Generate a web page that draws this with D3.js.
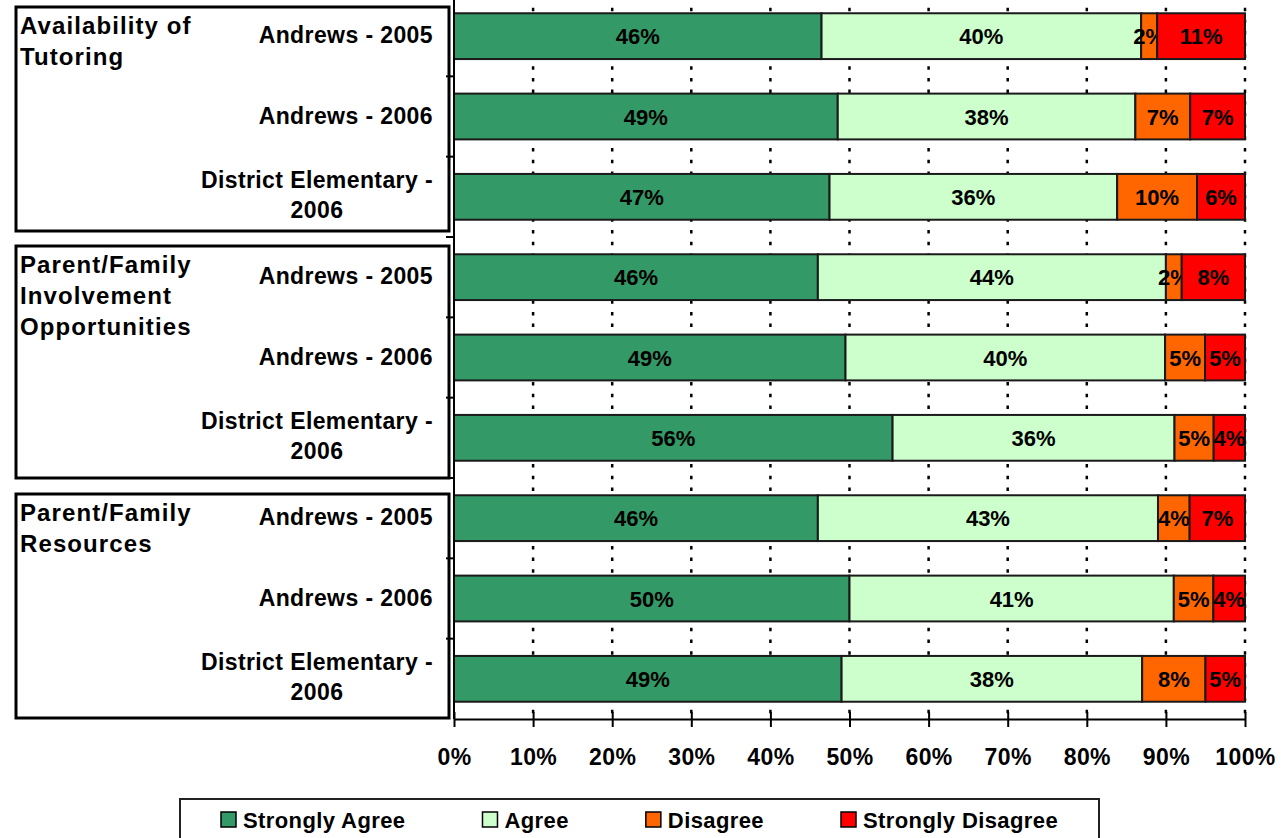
<!DOCTYPE html>
<meta charset="utf-8">
<script src="https://d3js.org/d3.v7.min.js"></script>
<style>
  body { margin: 0; background: #fff; }
  text { font-family: "Liberation Sans", Arial, sans-serif; font-weight: bold; fill: #000; }
</style>
<div id="my_dataviz"></div>
<script>

// data
var groupNames = [["Availability of", "Tutoring"],
                  ["Parent/Family", "Involvement", "Opportunities"],
                  ["Parent/Family", "Resources"]];
var rowNames = [["Andrews - 2005"], ["Andrews - 2006"], ["District Elementary -", "2006"]];
var series = ["Strongly Agree", "Agree", "Disagree", "Strongly Disagree"];
var colors = ["#339966", "#CCFFCC", "#FF6600", "#FF0000"];

var stronglyAgree    = [46, 49, 47, 46, 49, 56, 46, 50, 49];
var agree            = [40, 38, 36, 44, 40, 36, 43, 41, 38];
var disagree         = [ 2,  7, 10,  2,  5,  5,  4,  5,  8];
var stronglyDisagree = [11,  7,  6,  8,  5,  4,  7,  4,  5];
var xTicks = [0, 10, 20, 30, 40, 50, 60, 70, 80, 90, 100];

var width = 1287, height = 838;

var svg = d3.select("#my_dataviz")
  .append("svg")
    .attr("width", width)
    .attr("height", height)
    .style("display", "block");

// build rows
var table = [];
groupNames.forEach(function(g, gi) {
  rowNames.forEach(function(r, ri) {
    var i = gi * rowNames.length + ri;
    table.push({
      id: "g" + gi + "r" + ri, group: gi, lines: r,
      "Strongly Agree": stronglyAgree[i], "Agree": agree[i],
      "Disagree": disagree[i], "Strongly Disagree": stronglyDisagree[i]
    });
  });
});

var x = d3.scaleLinear().domain([0, 1]).range([454, 1245]);
var y = d3.scaleBand().domain(table.map(function(d) { return d.id; }))
  .range([-4, 719]).paddingInner(0.43).paddingOuter(0.215);
var color = d3.scaleOrdinal().domain(series).range(colors);

var step = y.step();
function bandTop(id) { return y(id) - step * 0.215; }

// gridlines
svg.append("g").selectAll("line")
  .data(xTicks.filter(function(t) { return t > 0; }))
  .enter().append("line")
    .attr("x1", function(d) { return x(d / 100); })
    .attr("x2", function(d) { return x(d / 100); })
    .attr("y1", -4).attr("y2", 719)
    .attr("stroke", "#000").attr("stroke-width", 2.5)
    .attr("stroke-dasharray", "3.5,8.2");

// stacked bars
var stacked = d3.stack().keys(series).offset(d3.stackOffsetExpand)(table);

var layers = svg.append("g").selectAll("g")
  .data(stacked)
  .enter().append("g")
    .attr("fill", function(d) { return color(d.key); });

layers.selectAll("rect")
  .data(function(d) { return d; })
  .enter().append("rect")
    .attr("x", function(d) { return x(d[0]); })
    .attr("y", function(d) { return y(d.data.id); })
    .attr("width", function(d) { return x(d[1]) - x(d[0]); })
    .attr("height", y.bandwidth())
    .attr("stroke", "#1a1a1a").attr("stroke-width", 2);

layers.each(function(s) {
  d3.select(this).selectAll("text")
    .data(s)
    .enter().append("text")
      .attr("x", function(d) { return (x(d[0]) + x(d[1])) / 2; })
      .attr("y", function(d) { return y(d.data.id) + y.bandwidth() / 2 + 8; })
      .attr("text-anchor", "middle")
      .style("font-size", "22px")
      .text(function(d) { return d.data[s.key] + "%"; });
});

// y axis line and ticks
svg.append("line").attr("x1", 454).attr("x2", 454).attr("y1", -4).attr("y2", 719)
  .attr("stroke", "#000").attr("stroke-width", 2);
svg.append("g").selectAll("line")
  .data(table.slice(1))
  .enter().append("line")
    .attr("x1", 446).attr("x2", 454)
    .attr("y1", function(d) { return bandTop(d.id); })
    .attr("y2", function(d) { return bandTop(d.id); })
    .attr("stroke", "#000").attr("stroke-width", 2);

// x axis
var xAxis = svg.append("g")
  .attr("transform", "translate(0,719)")
  .call(d3.axisBottom(x)
    .tickValues(xTicks.map(function(t) { return t / 100; }))
    .tickFormat(d3.format(".0%"))
    .tickSizeOuter(0).tickSizeInner(8));
xAxis.select(".domain").attr("stroke-width", 2);
xAxis.selectAll(".tick line").attr("y1", -7).attr("stroke-width", 2);
xAxis.selectAll(".tick text")
  .attr("y", 46).attr("dy", 0)
  .style("font-size", "23px")
  .style("letter-spacing", "0.4px")
  .style("font-family", "'Liberation Sans', Arial, sans-serif")
  .style("font-weight", "bold");

// group boxes with labels
var boxOffsets = [[11, -6], [9, 0], [16, -1]];
groupNames.forEach(function(g, gi) {
  var first = table[gi * 3].id, last = table[gi * 3 + 2].id;
  var top = bandTop(first) + boxOffsets[gi][0];
  var bottom = bandTop(last) + step + boxOffsets[gi][1];
  svg.append("rect")
    .attr("x", 16).attr("y", top)
    .attr("width", 433).attr("height", bottom - top)
    .attr("fill", "none").attr("stroke", "#000").attr("stroke-width", 3);
  var t = svg.append("text").attr("x", 20).attr("y", top + 27)
    .style("font-size", "24px").style("letter-spacing", "1.1px");
  g.forEach(function(line, li) {
    t.append("tspan").attr("x", 20).attr("dy", li === 0 ? 0 : 31).text(line);
  });
});

// row labels
table.forEach(function(d) {
  var cy = y(d.id) + y.bandwidth() / 2;
  var lab = function(yy, anchor, xx, s) {
    return svg.append("text").attr("x", xx).attr("y", yy)
      .attr("text-anchor", anchor).style("font-size", "23px")
      .style("letter-spacing", "0.4px").text(s);
  };
  if (d.lines.length === 1) {
    lab(cy + 7, "end", 433, d.lines[0]);
  } else {
    var l1 = lab(cy - 9, "end", 433, d.lines[0]);
    var w = l1.node().getComputedTextLength();
    lab(cy + 21, "middle", 433 - w / 2, d.lines[1]);
  }
});

// legend
svg.append("rect").attr("x", 180).attr("y", 799).attr("width", 919).attr("height", 60)
  .attr("fill", "#fff").attr("stroke", "#222").attr("stroke-width", 2);
var lx = 221;
series.forEach(function(s) {
  svg.append("rect").attr("x", lx).attr("y", 812).attr("width", 15).attr("height", 15)
    .attr("fill", color(s)).attr("stroke", "#000").attr("stroke-width", 1.5);
  var t = svg.append("text").attr("x", lx + 22).attr("y", 828)
    .style("font-size", "22px").style("letter-spacing", "0.4px").text(s);
  lx += 22 + t.node().getComputedTextLength() + 77;
});

</script>
